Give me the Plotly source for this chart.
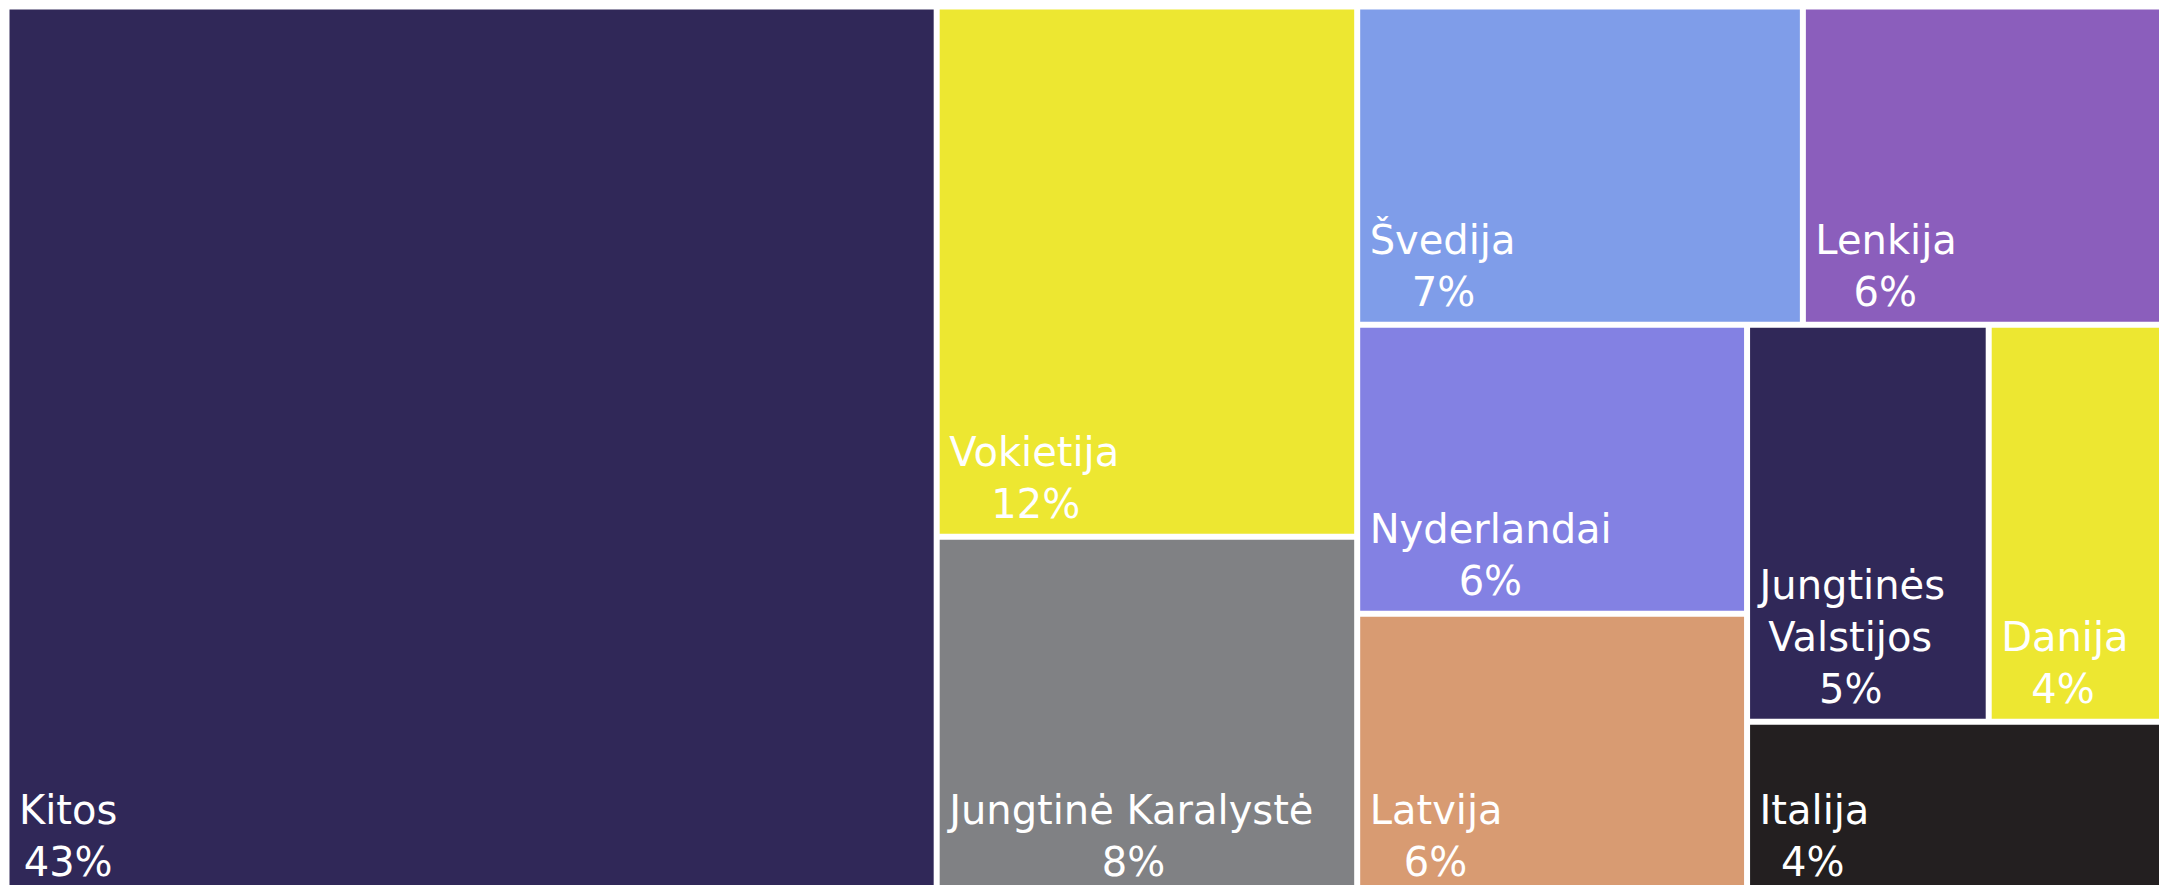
import plotly.graph_objects as go

labels = ["Kitos", "Vokietija", "Jungtinė Karalystė", "Švedija", "Lenkija",
          "Nyderlandai", "Latvija", "Jungtinės<br>Valstijos", "Danija", "Italija"]
values = [42.87, 11.57, 7.81, 7.36, 6.17, 5.85, 5.68, 4.98, 3.87, 3.85]
colors = ["#302858", "#EDE731", "#808184", "#7F9DE9", "#8B5EBC",
          "#8381E3", "#D89B72", "#302858", "#EDE731", "#231F20"]
parents = [""] * len(labels)
FONT_SIZE = 40

# approximate DejaVu Sans advance widths (em) used only to centre the text lines
W = {" ": .318, "%": .950, "I": .295, "J": .295, "K": .656, "L": .557, "N": .748,
     "D": .770, "V": .684, "Š": .635, "a": .613, "d": .635, "e": .615, "ė": .615,
     "g": .635, "i": .278, "j": .278, "k": .579, "l": .278, "n": .634, "o": .612,
     "r": .411, "s": .521, "t": .392, "u": .634, "v": .592, "y": .592}
for c in "0123456789":
    W[c] = .636
NBSP, HAIR = "\u00a0", "\u200a"


def width(s):
    return sum(W.get(c, .6) for c in s)


def pad(em):
    n = int(em // .318)
    rest = em - n * .318
    return NBSP * n + HAIR * int(round(rest / .1))


# invisible trailing glyph with a larger descent lifts the text block slightly
LIFT = '<span style="font-size:61px">' + NBSP + '</span>'

texts = []
for lab, v in zip(labels, values):
    lines = lab.split("<br>") + [f"{v:.0f}%"]
    wmax = max(width(l) for l in lines)
    out = [pad(0.2 + (wmax - width(l)) / 2) + l for l in lines]
    out[-1] = out[-1] + LIFT
    texts.append("<br>".join(out))

fig = go.Figure(go.Treemap(
    labels=labels,
    parents=parents,
    values=values,
    text=texts,
    marker=dict(colors=colors, line=dict(color="white", width=3),
                pad=dict(t=0, l=0, r=0, b=0)),
    tiling=dict(squarifyratio=1.1),
    texttemplate="%{text}",
    textposition="bottom left",
    textfont=dict(family="DejaVu Sans", size=FONT_SIZE, color="white"),
    hoverinfo="label+value",
    pathbar=dict(visible=False),
    sort=True,
))
fig.update_layout(
    width=2167, height=885,
    margin=dict(l=0, r=0, t=0, b=0, pad=0),
    paper_bgcolor="white",
    font=dict(family="DejaVu Sans"),
)
fig.write_html("out.html")
